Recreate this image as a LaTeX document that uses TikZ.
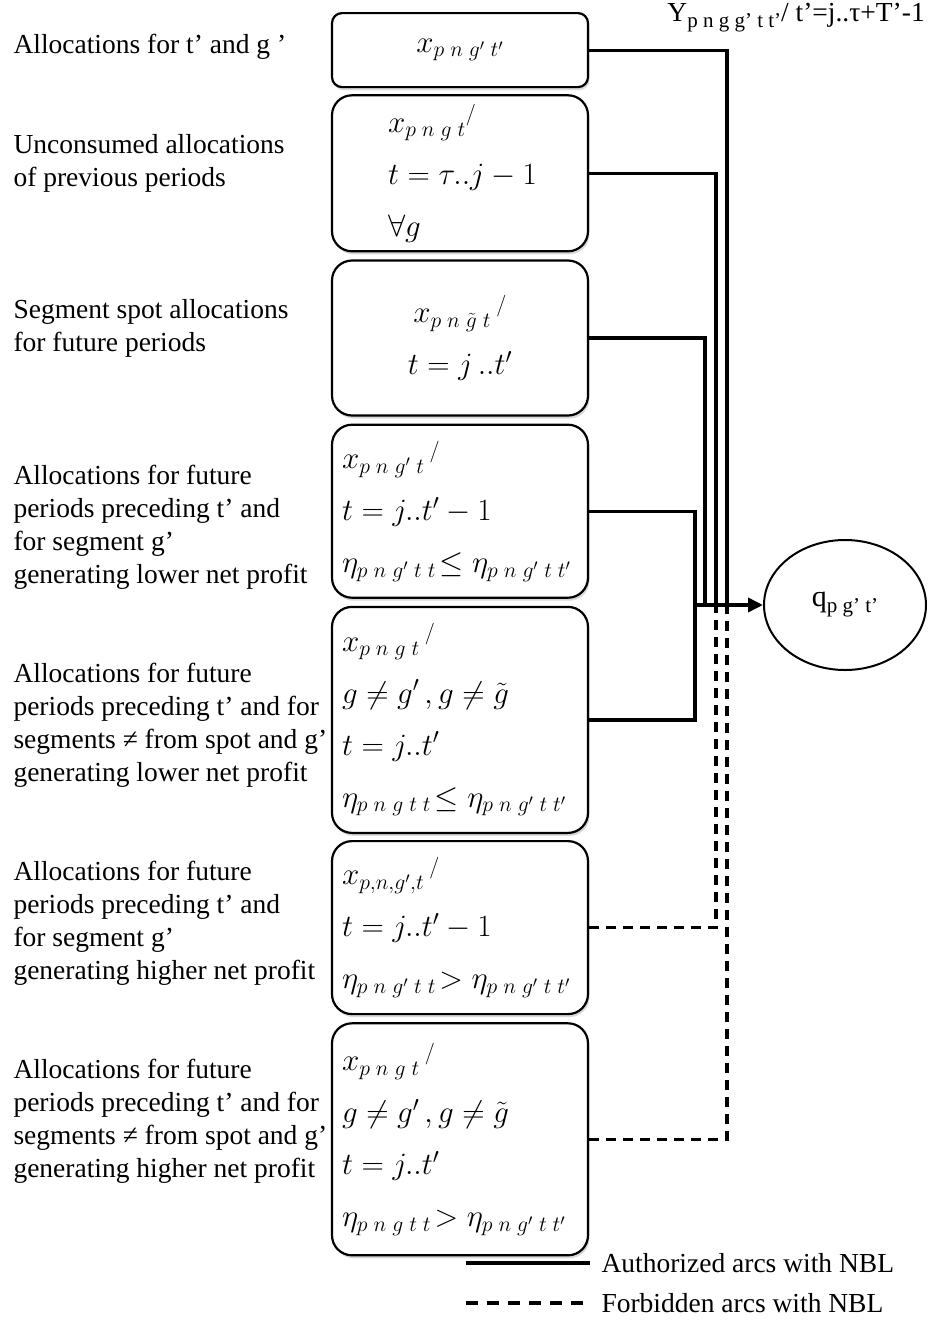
\RequirePackage{fix-cm}
\documentclass[tikz,border=0pt]{standalone}
\usepackage{fontspec}
\setmainfont{Liberation Serif}
\usetikzlibrary{positioning,arrows.meta,shapes.geometric,shadows}
\definecolor{nbInk}{HTML}{000000}
\definecolor{nbShade}{HTML}{A0A0A0}
\definecolor{nbWhite}{HTML}{FFFFFF}
\newcommand{\gp}{\mkern5mu}
\newcommand{\lowsub}[1]{\raisebox{-6pt}{\fontsize{21}{21}\selectfont #1}}
\tikzset{
  nb-box/.style={
    draw=nbInk, line width=2.2pt, rounded corners=20pt,
    fill=nbWhite, font=\fontsize{31}{52}\selectfont, align=left,
    text width=236pt, inner xsep=10pt, inner ysep=0pt,
    drop shadow={shadow xshift=1.5pt, shadow yshift=-3pt,
      opacity=.4, fill=nbShade}
  },
  nb-label/.style={anchor=west, align=left,
    font=\fontsize{27.5}{33}\selectfont},
  nb-ok/.style={draw=nbInk, line width=3.2pt},
  nb-no/.style={draw=nbInk, line width=3.2pt, dash pattern=on 10pt off 7pt},
  nb-node/.style={ellipse, draw=nbInk, line width=2pt, fill=nbWhite,
    minimum width=162pt, minimum height=130pt,
    font=\fontsize{30}{32}\selectfont}
}

\begin{document}
\begin{tikzpicture}[x=1pt, y=-1pt, node distance=6pt]
\useasboundingbox (0,0) rectangle (928,1320);

% allocation boxes
\node[nb-box, align=center, rounded corners=10pt, minimum height=74pt,
  anchor=north] (b1) at (460,12) {\mbox{$x_{p\gp n\gp g'\gp t'}$}};
\node[nb-box, text width=144pt, inner xsep=56pt, minimum height=156pt,
  below=of b1] (b2)
  {\mbox{$x_{p\gp n\gp g\gp t}{}^{/}$}\\ \mbox{$t=\tau..j-1$}\\ \mbox{$\forall g$}};
\node[nb-box, align=center, minimum height=155pt, below=7pt of b2] (b3)
  {\mbox{$x_{p\gp n\gp \tilde g\gp t}\,{}^{/}$}\\ \mbox{$t=j\,..t'$}};
\node[nb-box, minimum height=173pt, below=7pt of b3] (b4)
  {\mbox{$x_{p\gp n\gp g'\gp t}\,{}^{/}$}\\ \mbox{$t=j..t'-1$}\\
   \mbox{$\eta_{p\gp n\gp g'\gp t\gp t}\!\le\eta_{p\gp n\gp g'\gp t\gp t'}$}};
\node[nb-box, minimum height=226pt, below=7pt of b4] (b5)
  {\mbox{$x_{p\gp n\gp g\gp t}\,{}^{/}$}\\ \mbox{$g\neq g'\,,g\neq\tilde g$}\\
   \mbox{$t=j..t'$}\\
   \mbox{$\eta_{p\gp n\gp g\gp t\gp t}\!\le\eta_{p\gp n\gp g'\gp t\gp t'}$}};
\node[nb-box, minimum height=173pt, below=of b5] (b6)
  {\mbox{$x_{p,n,g',t}\,{}^{/}$}\\ \mbox{$t=j..t'-1$}\\
   \mbox{$\eta_{p\gp n\gp g'\gp t\gp t}\!>\eta_{p\gp n\gp g'\gp t\gp t'}$}};
\node[nb-box, minimum height=232pt, below=7pt of b6] (b7)
  {\mbox{$x_{p\gp n\gp g\gp t}\,{}^{/}$}\\ \mbox{$g\neq g'\,,g\neq\tilde g$}\\
   \mbox{$t=j..t'$}\\
   \mbox{$\eta_{p\gp n\gp g\gp t\gp t}\!>\eta_{p\gp n\gp g'\gp t\gp t'}$}};

% descriptions on the left
\node[nb-label] (l1) at (10,47) {Allocations for t’ and g ’};
\node[nb-label] (l2) at (10,163) {Unconsumed allocations\\ of previous periods};
\node[nb-label] (l3) at (10,328) {Segment spot allocations\\ for future periods};
\node[nb-label] (l4) at (10,527) {Allocations for future\\
  periods preceding t’ and\\ for segment g’\\ generating lower net profit};
\node[nb-label] (l5) at (10,725) {Allocations for future\\
  periods preceding t’ and for\\ segments ≠ from spot and g’\\
  generating lower net profit};
\node[nb-label] (l6) at (10,923) {Allocations for future\\
  periods preceding t’ and\\ for segment g’\\ generating higher net profit};
\node[nb-label] (l7) at (10,1121) {Allocations for future\\
  periods preceding t’ and for\\ segments ≠ from spot and g’\\
  generating higher net profit};

% target node
\node[nb-node] (q) at (845,605) {q\lowsub{p~g’~t’}};
\node[font=\fontsize{27.5}{30}\selectfont, anchor=east, inner sep=0pt]
  (ytitle) at (925,18)
  {Y\lowsub{p~n~g~g’~t~t’}/ t’=j..τ+T’-1};

% arcs
\coordinate (hub) at (695,605);
\coordinate (c3) at (705,605);
\coordinate (c2) at (716,605);
\coordinate (c1) at (727,605);
\draw[nb-ok] (b1.east) -| (c1);
\draw[nb-ok] (b2.east) -| (c2);
\draw[nb-ok] (b3.east) -| (c3);
\draw[nb-ok] (b4.east) -| (hub);
\draw[nb-ok] (b5.east) -| (hub);
\draw[nb-no] (b6.east) -| (c2);
\draw[nb-no] (b7.east) -| (c1);
\draw[nb-ok, line width=3.6pt, -{Triangle[length=15pt,width=14pt]}]
  (hub) -- (q);

% legend
\coordinate (la) at (466,1263);
\coordinate (lb) at (590,1263);
\coordinate (lc) at (466,1303);
\coordinate (ld) at (590,1303);
\draw[nb-ok] (la) -- (lb);
\draw[nb-no, dash pattern=on 12pt off 9pt] (lc) -- (ld);
\node[nb-label] (leg1) at (598,1263) {Authorized arcs with NBL};
\node[nb-label] (leg2) at (598,1303) {Forbidden arcs with NBL};
\end{tikzpicture}
\end{document}
